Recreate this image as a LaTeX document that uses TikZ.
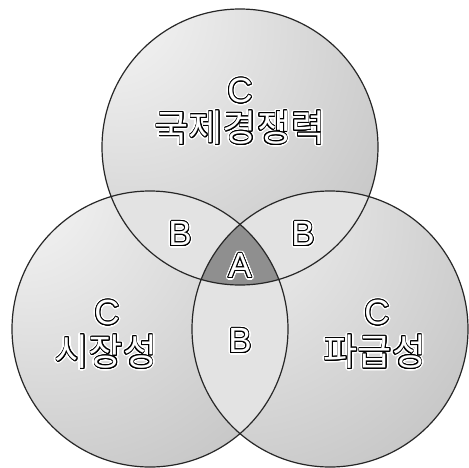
\documentclass[tikz,border=0pt]{standalone}
\usepackage{fontspec}
\setmainfont{Noto Sans CJK KR}
\newfontfamily\korfont{Noto Sans CJK KR}
\newfontfamily\latfont{Liberation Sans}
\usepackage{contour}
\contournumber{20}
\usetikzlibrary{positioning}

\pgfdeclareradialshading{sphere}{\pgfpoint{-28bp}{30bp}}{%
  color(0bp)=(black!2); color(12bp)=(black!7); color(40bp)=(black!19);
  color(70bp)=(black!32); color(95bp)=(black!46)}

% white letters, black rim, white halo
\newcommand\halo[1]{%
  \contourlength{2.4pt}\rlap{\contour{white}{\color{white}#1}}%
  \contourlength{0.9pt}\contour{black}{\color{white}#1}}

\begin{document}
\begin{tikzpicture}[
  x=1pt, y=-1pt,
  every node/.style={align=center, inner sep=0pt},
  ball/.style={shading=sphere},
  rim/.style={draw=black!85, line width=1.2pt},
  bfill/.style={fill=black!11},
  afill/.style={fill=black!44},
  letter/.style={font=\latfont\fontsize{35}{35}\selectfont},
  hangul/.style={font=\korfont\fontsize{37}{37}\selectfont},
]
\useasboundingbox (0,0) rectangle (469,467);
\def\rad{138}

\coordinate (ctop)   at (240,147);
\coordinate (cleft)  at (150,329);
\coordinate (cright) at (330,329);

% --- shaded spheres ---
\foreach \c in {ctop,cleft,cright}
  \shade[ball] (\c) circle[radius=\rad];

% --- pairwise overlaps (B) ---
\begin{scope}
  \clip (ctop) circle[radius=\rad];
  \fill[bfill] (cleft) circle[radius=\rad];
  \fill[bfill] (cright) circle[radius=\rad];
\end{scope}
\begin{scope}
  \clip (cleft) circle[radius=\rad];
  \fill[bfill] (cright) circle[radius=\rad];
\end{scope}

% --- common part (A) ---
\begin{scope}
  \clip (ctop) circle[radius=\rad];
  \clip (cleft) circle[radius=\rad];
  \fill[afill] (cright) circle[radius=\rad];
\end{scope}

% --- outlines ---
\foreach \c in {ctop,cleft,cright}
  \draw[rim] (\c) circle[radius=\rad];

% --- labels ---
\node[letter] (ctopC)   at (240,92)  {\halo{C}};
\node[hangul] (ctopK)   at (240,129) {\halo{국제경쟁력}};
\node[letter] (cleftC)  at (107,314) {\halo{C}};
\node[hangul] (cleftK)  at (106,353) {\halo{시장성}};
\node[letter] (crightC) at (377,314) {\halo{C}};
\node[hangul] (crightK) at (375,353) {\halo{파급성}};

\node[letter] (bleft)   at (180,235) {\halo{B}};
\node[letter] (bright)  at (303,235) {\halo{B}};
\node[letter] (bbottom) at (240,342) {\halo{B}};
\node[letter] (amid)    at (240,267) {\halo{A}};

\end{tikzpicture}
\end{document}
